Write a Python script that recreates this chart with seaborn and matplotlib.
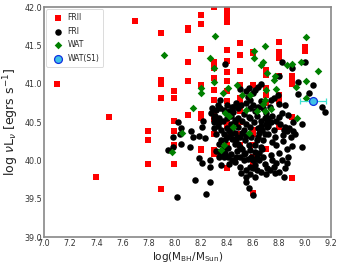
import numpy as np
import pandas as pd
import seaborn as sns
import matplotlib
matplotlib.use("Agg")
import matplotlib.pyplot as plt
from matplotlib.ticker import MultipleLocator

# ---------------- data ----------------
frii_x = [7.1, 7.4, 7.5, 7.7,
          7.8, 7.8, 7.8,
          7.9, 7.9, 7.9, 7.9, 7.9,
          8.0, 8.0, 8.0, 8.0, 8.0, 8.0,
          8.1, 8.1, 8.1, 8.1, 8.1,
          8.2, 8.2, 8.2, 8.2, 8.2, 8.2, 8.2, 8.2,
          8.3, 8.3, 8.3, 8.3, 8.3, 8.3, 8.3, 8.3, 8.3, 8.3, 8.3,
          8.4, 8.4, 8.4, 8.4, 8.4, 8.4, 8.4, 8.4, 8.4, 8.4, 8.4, 8.4, 8.4, 8.4, 8.4, 8.4, 8.4,
          8.5, 8.5, 8.5, 8.5, 8.5, 8.5, 8.5, 8.5, 8.5, 8.5, 8.5,
          8.6, 8.6, 8.6, 8.6, 8.6, 8.6, 8.6, 8.6, 8.6,
          8.7, 8.7, 8.7, 8.7, 8.7, 8.7,
          8.8, 8.8, 8.8, 8.8, 8.8, 8.8, 8.8, 8.8,
          8.9, 8.9, 8.9, 8.9, 8.9,
          9.0, 9.0]
frii_y = [41.0, 39.79, 40.57, 41.82,
          40.39, 40.26, 39.95,
          41.66, 41.05, 41.0, 40.81, 39.63,
          40.9, 40.81, 40.52, 40.39, 40.2, 39.95,
          41.73, 41.70, 41.29, 41.04, 40.59,
          41.9, 41.78, 41.45, 40.99, 40.6, 40.55, 40.15, 40.13,
          42.0, 41.28, 41.2, 41.08, 40.92, 40.79, 40.63, 40.54, 40.34, 40.13, 40.08,
          41.96, 41.92, 41.88, 41.81, 41.44, 41.3, 41.15, 41.04, 40.9, 40.77, 40.62,
          40.5, 40.45, 40.3, 40.2, 40.05, 39.9,
          41.53, 41.38, 41.17, 40.98, 40.82, 40.77, 40.7, 40.65, 40.5, 40.35, 40.2,
          41.42, 41.4, 40.98, 40.4, 40.35, 40.2, 40.05, 39.96, 39.58,
          41.18, 41.12, 40.95, 40.85, 40.75, 40.15,
          41.55, 41.42, 41.37, 41.33, 41.1, 40.85, 40.78, 40.44,
          41.1, 41.05, 41.0, 40.57, 39.77,
          41.48, 41.43]

fri_x = [8.02, 7.95, 7.99, 7.99, 8.03, 8.05, 8.05, 8.04, 8.16, 8.12, 8.13, 8.14,
         8.19, 8.19, 8.21, 8.23, 8.24, 8.21, 8.22, 8.27, 8.27, 8.27, 8.29, 8.30,
         8.31, 8.32, 8.32, 8.34, 8.34, 8.35, 8.35, 8.36, 8.36, 8.38, 8.39, 8.39,
         8.40, 8.43, 8.43, 8.41, 8.43, 8.44, 8.44, 8.45, 8.46, 8.46, 8.47, 8.48,
         8.49, 8.50, 8.50, 8.51, 8.53, 8.53, 8.54, 8.55, 8.55, 8.57, 8.56, 8.58,
         8.57, 8.58, 8.59, 8.57, 8.60, 8.60, 8.62, 8.62, 8.63, 8.64, 8.63, 8.65,
         8.66, 8.66, 8.68, 8.68, 8.71, 8.71, 8.72, 8.74, 8.74, 8.75, 8.76, 8.77,
         8.78, 8.80, 8.80, 8.80, 8.82, 8.83, 8.84, 8.85, 8.85, 8.86, 8.87, 8.90,
         8.90, 8.91, 8.91, 8.95, 8.95, 8.98, 8.98, 9.00, 9.03, 9.06, 9.13, 9.15,
         8.28, 8.30, 8.33, 8.36, 8.38, 8.40, 8.42, 8.44, 8.46, 8.47, 8.49, 8.50,
         8.52, 8.53, 8.55, 8.57, 8.58, 8.59, 8.61, 8.62, 8.64, 8.65, 8.66, 8.67,
         8.69, 8.70, 8.72, 8.74, 8.76, 8.77, 8.78, 8.80, 8.82, 8.84, 8.86, 8.88,
         8.89, 8.87, 8.85,
         8.32, 8.34, 8.37, 8.39, 8.41, 8.42, 8.44, 8.46, 8.48, 8.50, 8.52, 8.54,
         8.56, 8.58, 8.60, 8.63, 8.65, 8.67, 8.69, 8.71, 8.73, 8.75,
         8.33, 8.35, 8.38, 8.40, 8.42, 8.45, 8.47, 8.49, 8.51, 8.53, 8.55, 8.58,
         8.60, 8.62, 8.64, 8.66, 8.68, 8.70, 8.73, 8.76, 8.60, 8.62, 8.64, 8.55,
         8.50,
         8.30, 8.34, 8.37, 8.40, 8.43, 8.46, 8.49, 8.52, 8.55, 8.58, 8.61, 8.63,
         8.66, 8.69, 8.72, 8.75, 8.78, 8.81,
         8.58, 8.62, 8.55, 8.66, 8.70, 8.80, 8.92, 8.83, 8.86, 8.82, 8.79]
fri_y = [39.52, 40.14, 40.31, 40.18, 40.50, 40.42, 40.22, 40.35, 39.75, 40.17, 40.39, 40.31,
         40.32, 40.03, 39.97, 40.29, 39.56, 40.44, 40.51, 40.01, 39.92, 39.72, 40.68, 40.42,
         40.58, 40.66, 40.35, 40.50, 40.22, 40.79, 40.09, 39.94, 40.26, 40.05, 40.26, 41.26,
         40.42, 40.47, 40.35, 40.16, 40.09, 40.28, 40.70, 40.63, 40.53, 40.22, 40.05, 40.30,
         40.44, 40.18, 39.92, 39.83, 40.09, 40.01, 40.26, 39.87, 39.72, 40.95, 40.83, 40.79,
         40.57, 40.44, 40.31, 39.64, 39.55, 40.01, 39.94, 40.11, 40.26, 40.42, 39.87, 40.00,
         40.18, 41.00, 40.05, 40.27, 40.53, 40.44, 40.35, 40.79, 40.07, 40.24, 39.92, 39.83,
         39.96, 40.74, 40.57, 41.10, 41.28, 40.33, 39.79, 40.72, 40.44, 39.96, 40.59, 41.20,
         40.19, 40.50, 40.39, 41.02, 40.87, 40.47, 40.17, 41.28, 40.88, 40.98, 40.70, 40.63,
         40.62, 40.55, 40.45, 40.40, 40.34, 40.30, 40.38, 40.42, 40.36, 40.28, 40.22, 40.30,
         40.36, 40.40, 40.32, 40.20, 40.14, 40.05, 40.00, 40.20, 40.30, 40.36, 40.45, 40.40,
         40.35, 40.48, 40.55, 40.50, 40.40, 40.30, 40.20, 40.10, 40.00, 40.40, 40.38, 40.42,
         40.30, 40.05, 39.90,
         40.12, 40.05, 40.15, 40.10, 40.05, 39.95, 40.00, 39.98, 40.12, 40.05, 40.15, 40.10,
         40.02, 39.92, 39.90, 40.05, 40.10, 40.15, 39.95, 39.90, 39.88, 40.00,
         40.72, 40.68, 40.66, 40.72, 40.64, 40.70, 40.75, 40.68, 40.72, 40.60, 40.75, 40.68,
         40.72, 40.64, 40.70, 40.78, 40.68, 40.62, 40.70, 40.82, 40.88, 40.92, 40.96, 40.90,
         40.93,
         40.50, 40.56, 40.52, 40.55, 40.58, 40.50, 40.55, 40.52, 40.48, 40.55, 40.50, 40.58,
         40.52, 40.56, 40.45, 40.58, 40.52, 40.48,
         39.82, 39.78, 39.78, 39.85, 39.82, 39.85, 40.35, 40.25, 40.15, 40.62, 40.85]

wat_x = [7.92, 8.31, 8.27, 8.30, 8.30, 8.20, 8.20, 8.41, 8.37, 8.14, 8.06, 7.98,
         8.38, 8.36, 8.39, 8.42, 8.45, 8.48, 8.52, 8.55, 8.57, 8.58, 8.61, 8.61,
         8.69, 8.68, 8.66, 8.71, 8.70, 8.69, 8.68, 8.69, 8.63, 8.77, 8.76, 8.78,
         8.86, 8.90, 8.93, 8.94, 9.01, 8.97, 9.01, 9.01, 9.10, 8.74]
wat_y = [41.38, 41.62, 41.33, 41.21, 41.02, 40.95, 40.88, 40.94, 40.88, 40.69, 40.36, 40.11,
         40.20, 40.13, 40.62, 40.58, 40.44, 40.99, 40.86, 40.66, 40.36, 40.86, 41.43, 41.33,
         41.49, 41.28, 41.24, 41.14, 40.92, 40.79, 40.74, 40.65, 40.65, 41.10, 41.05, 40.93,
         41.24, 41.26, 40.96, 40.55, 41.61, 41.28, 41.04, 40.82, 41.17, 40.67]

s1_x = [9.06]
s1_y = [40.78]
s1_xerr = [0.10]

# ---------------- plot ----------------
sns.set_style("white")
plt.rcParams['font.family'] = ['DejaVu Sans']

fig = plt.figure(figsize=(3.41, 2.64), dpi=100)
ax = fig.add_axes([0.129, 0.102, 0.842, 0.871])

sns.scatterplot(x=frii_x, y=frii_y, ax=ax, marker='s', color='red', s=20,
                linewidth=0, label='FRII', zorder=2)
sns.scatterplot(x=fri_x, y=fri_y, ax=ax, marker='o', color='black', s=22,
                linewidth=0, label='FRI', zorder=3)
sns.scatterplot(x=wat_x, y=wat_y, ax=ax, marker='D', color='green', s=15,
                linewidth=0, label='WAT', zorder=4)
ax.errorbar(s1_x, s1_y, xerr=s1_xerr, fmt='none', ecolor='#40e0d0',
            elinewidth=0.9, capsize=2, capthick=0.9, zorder=5)
sns.scatterplot(x=s1_x, y=s1_y, ax=ax, marker='o', color='#3fc1e6', s=32,
                edgecolor='#1030e0', linewidth=0.9, label='WAT(S1)', zorder=6)

ax.set_xlim(7.0, 9.2)
ax.set_ylim(39.0, 42.0)
ax.xaxis.set_major_locator(MultipleLocator(0.2))
ax.xaxis.set_minor_locator(MultipleLocator(0.05))
ax.yaxis.set_major_locator(MultipleLocator(0.5))
ax.yaxis.set_minor_locator(MultipleLocator(0.1))
ax.tick_params(axis='both', which='both', direction='in', labelsize=5.8,
               colors='#444444', labelcolor='#333333', pad=1.5)
ax.tick_params(which='major', length=2.5, width=0.6)
ax.tick_params(which='minor', length=1.5, width=0.5)

for sp in ax.spines.values():
    sp.set_color('#888888')
    sp.set_linewidth(1.2)

ax.set_xlabel(r'log(M$_{\rm BH}$/M$_{\rm Sun}$)', fontsize=7.5, labelpad=1, color='#222222')
ax.set_ylabel(r'log $\nu$L$_{\nu}$ [egrs s$^{-1}$]', fontsize=9, labelpad=2, color='#222222')

leg = ax.legend(loc='upper left', fontsize=5.5, frameon=True, borderpad=0.5,
                labelspacing=0.6, handletextpad=0.3, borderaxespad=0.3,
                markerscale=1.0)
leg.get_frame().set_edgecolor('#cccccc')
leg.get_frame().set_linewidth(0.6)

fig.savefig('out.png', dpi=100)
